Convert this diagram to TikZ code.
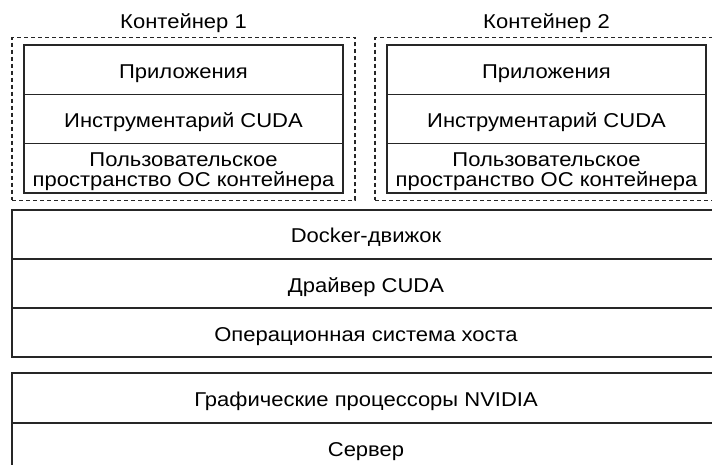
\documentclass[tikz,border=0pt]{standalone}
\usepackage{fontspec}
\setmainfont{Liberation Sans}[FakeStretch=1.1]
\usetikzlibrary{positioning, fit}

\tikzset{
  layer/.style={draw=black!85, line width=1.4pt, inner sep=0pt, outer sep=0pt,
    minimum width=#1, minimum height=49.3pt, align=center,
    text height=20pt, text depth=3pt,
    font=\fontsize{20}{20}\selectfont},
  layer/.default=319pt,
  twolines/.style={text height={}, text depth={}},
  contbox/.style={draw=black!85, line width=1.4pt, dash pattern=on 4pt off 3pt,
    inner xsep=12pt, inner ysep=7.5pt},
  contlabel/.style={inner sep=0pt, font=\fontsize{20}{20}\selectfont}
}
\newcommand{\toprow}{\rule{0pt}{21.3pt}}

\begin{document}
\begin{tikzpicture}[x=1pt,y=-1pt]
\clip (0,0) rectangle (712,465);
% container 1
\node[layer] (app1) at (183.5,69.7) {Приложения};
\node[layer, below=0pt of app1] (cuda1) {Инструментарий CUDA};
\node[layer, twolines, below=0pt of cuda1] (user1) {\toprow Пользовательское\\пространство ОС контейнера};
\node[contbox, fit=(app1)(user1)] (cont1) {};
\node[contlabel, above=4pt of cont1] (name1) {Контейнер 1};
% container 2
\node[layer] (app2) at (546.5,69.7) {Приложения};
\node[layer, below=0pt of app2] (cuda2) {Инструментарий CUDA};
\node[layer, twolines, below=0pt of cuda2] (user2) {\toprow Пользовательское\\пространство ОС контейнера};
\node[contbox, fit=(app2)(user2)] (cont2) {};
\node[contlabel, above=4pt of cont2] (name2) {Контейнер 2};
% host
\node[layer=708pt, minimum height=49pt] (docker) at (366,234.5) {Docker-движок};
\node[layer=708pt, minimum height=49pt, below=0pt of docker] (driver) {Драйвер CUDA};
\node[layer=708pt, minimum height=49pt, below=0pt of driver] (hostos) {Операционная система хоста};
% hardware
\node[layer=708pt, minimum height=50pt] (gpu) at (366,398) {Графические процессоры NVIDIA};
\node[layer=708pt, minimum height=50pt, below=0pt of gpu] (server) {Сервер};
\end{tikzpicture}
\end{document}
